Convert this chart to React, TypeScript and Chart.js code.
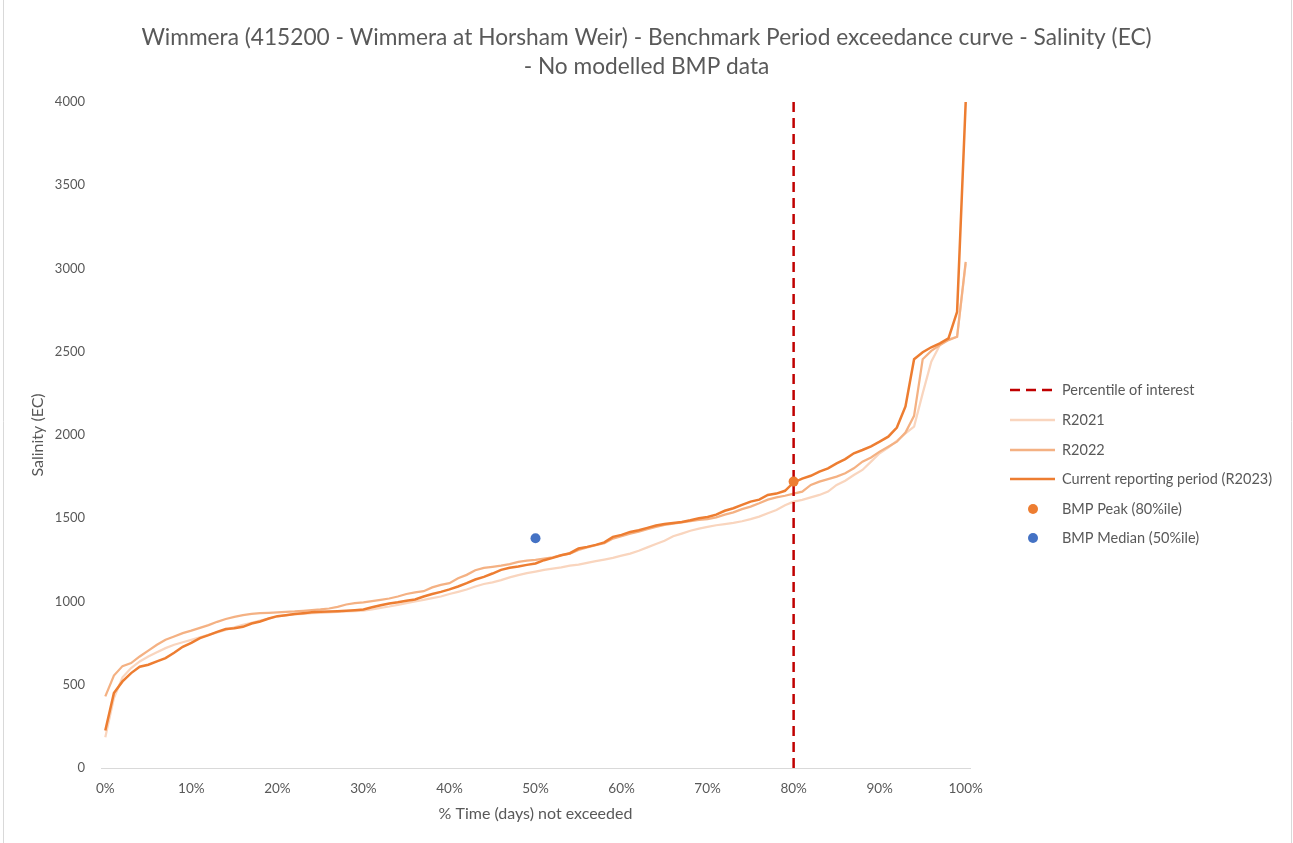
import React, { useEffect, useRef } from "react";
import { Chart, registerables } from "chart.js";

Chart.register(...registerables);

const TITLE_LINES = [
  "Wimmera (415200 - Wimmera at Horsham Weir) - Benchmark Period exceedance curve - Salinity (EC)",
  "- No modelled BMP data",
];
const X_TITLE = "% Time (days) not exceeded";
const Y_TITLE = "Salinity (EC)";

const PCT = [
  0, 1, 2, 3, 4, 5, 6, 7, 8, 9, 10, 11, 12, 13, 14, 15, 16, 17, 18, 19, 20,
  21, 22, 23, 24, 25, 26, 27, 28, 29, 30, 31, 32, 33, 34, 35, 36, 37, 38, 39, 40,
  41, 42, 43, 44, 45, 46, 47, 48, 49, 50, 51, 52, 53, 54, 55, 56, 57, 58, 59, 60,
  61, 62, 63, 64, 65, 66, 67, 68, 69, 70, 71, 72, 73, 74, 75, 76, 77, 78, 79, 80,
  81, 82, 83, 84, 85, 86, 87, 88, 89, 90, 91, 92, 93, 94, 95, 96, 97, 98, 99, 100,
];

const R2021 = [
  185, 420, 545, 600, 640, 670, 695, 720, 740, 755, 770,
  785, 800, 815, 830, 845, 860, 872, 885, 898, 910,
  918, 922, 926, 930, 932, 935, 937, 940, 942, 945,
  952, 962, 970, 980, 990, 1000, 1010, 1020, 1030, 1045,
  1058, 1072, 1090, 1105, 1115, 1128, 1145, 1158, 1170, 1180,
  1190, 1198, 1205, 1215, 1222, 1232, 1242, 1252, 1262, 1275,
  1288, 1305, 1325, 1345, 1365, 1392, 1408, 1425, 1438, 1448,
  1458, 1465, 1472, 1482, 1495, 1510, 1530, 1550, 1578, 1600,
  1610, 1625, 1640, 1660, 1700, 1725, 1760, 1790, 1840, 1890,
  1925, 1965, 2010, 2050, 2250, 2440, 2540, 2575, 2590, 3030,
];

const R2022 = [
  430, 555, 612, 630, 670, 705, 740, 770, 790, 810, 825,
  842, 858, 878, 895, 908, 918, 925, 930, 932, 935,
  938, 940, 944, 948, 952, 958, 968, 982, 990, 995,
  1002, 1010, 1018, 1030, 1045, 1055, 1062, 1085, 1100, 1110,
  1140, 1160, 1188, 1202, 1208, 1215, 1225, 1238, 1245, 1250,
  1258, 1265, 1278, 1288, 1310, 1325, 1338, 1350, 1378, 1392,
  1408, 1420, 1435, 1448, 1460, 1468, 1475, 1482, 1490, 1495,
  1505, 1522, 1535, 1555, 1570, 1590, 1612, 1625, 1635, 1648,
  1660, 1700, 1720, 1735, 1750, 1770, 1800, 1840, 1865, 1900,
  1930, 1960, 2015, 2115, 2455, 2505, 2540, 2570, 2590, 3040,
];

const R2023 = [
  225, 450, 520, 570, 608, 620, 640, 660, 692, 728, 752,
  780, 798, 818, 835, 840, 848, 868, 880, 898, 912,
  918, 925, 930, 935, 938, 940, 942, 945, 948, 952,
  965, 978, 988, 995, 1005, 1012, 1030, 1045, 1058, 1073,
  1090, 1110, 1132, 1148, 1168, 1190, 1203, 1210, 1220, 1228,
  1248, 1262, 1278, 1290, 1318, 1328, 1340, 1355, 1388, 1400,
  1418, 1428, 1442, 1456, 1465, 1472, 1478, 1488, 1500, 1508,
  1522, 1545, 1560, 1580, 1600, 1612, 1640, 1648, 1665, 1715,
  1738, 1755, 1780, 1800, 1830, 1855, 1890, 1910, 1932, 1960,
  1990, 2045, 2172, 2455, 2497, 2527, 2550, 2580, 2740, 4000,
];

const PERCENTILE_OF_INTEREST = [80, 80];
const PERCENTILE_LINE_Y = [0, 4000];
const PEAK_PCT = [80];
const PEAK_VAL = [1720];
const MEDIAN_PCT = [50];
const MEDIAN_VAL = [1380];

const X_TICKS = [0, 10, 20, 30, 40, 50, 60, 70, 80, 90, 100];
const Y_MIN = 0;
const Y_MAX = 4000;
const Y_STEP = 500;

const LEGEND_LABELS = [
  "Percentile of interest",
  "R2021",
  "R2022",
  "Current reporting period (R2023)",
  "BMP Peak (80%ile)",
  "BMP Median (50%ile)",
];

const C_RED = "#C00000";
const C_2021 = "#F9D5BE";
const C_2022 = "#F4B183";
const C_2023 = "#ED7D31";
const C_BLUE = "#4472C4";
const TXT = "#595959";
const FONT = "Lato, 'Open Sans', sans-serif";

const pairs = (xs: number[], ys: number[]) => xs.map((x, i) => ({ x, y: ys[i] }));

const legendPlugin = {
  id: "customLegend",
  afterDraw(chart: any) {
    const ctx = chart.ctx;
    ctx.save();
    // chart frame
    ctx.strokeStyle = "#D9D9D9";
    ctx.lineWidth = 1;
    ctx.beginPath();
    ctx.moveTo(3.5, 0);
    ctx.lineTo(3.5, chart.height);
    ctx.moveTo(chart.width - 1.5, 0);
    ctx.lineTo(chart.width - 1.5, chart.height);
    ctx.stroke();

    const rows = [390, 420, 450, 479, 509, 538];
    const x0 = 1010;
    const x1 = 1055;
    const tx = 1062;
    const items = [
      { kind: "line", color: C_RED, dash: [10, 6], width: 2.5 },
      { kind: "line", color: C_2021, dash: [], width: 2.5 },
      { kind: "line", color: C_2022, dash: [], width: 2.5 },
      { kind: "line", color: C_2023, dash: [], width: 2.5 },
      { kind: "dot", color: C_2023 },
      { kind: "dot", color: C_BLUE },
    ];
    items.forEach((it: any, i) => {
      const y = rows[i];
      if (it.kind === "line") {
        ctx.beginPath();
        ctx.setLineDash(it.dash);
        ctx.strokeStyle = it.color;
        ctx.lineWidth = it.width;
        ctx.moveTo(x0, y);
        ctx.lineTo(x1, y);
        ctx.stroke();
        ctx.setLineDash([]);
      } else {
        ctx.beginPath();
        ctx.fillStyle = it.color;
        ctx.arc((x0 + x1) / 2 + 0.5, y, 5, 0, Math.PI * 2);
        ctx.fill();
      }
      ctx.fillStyle = TXT;
      ctx.font = `14.5px ${FONT}`;
      ctx.textAlign = "left";
      ctx.textBaseline = "middle";
      ctx.fillText(LEGEND_LABELS[i], tx, y);
    });
    ctx.restore();
  },
};

export default function App() {
  const ref = useRef<HTMLCanvasElement | null>(null);

  useEffect(() => {
    document.body.style.margin = "0";
    const canvas = ref.current;
    if (!canvas) return;
    const chart = new Chart(canvas, {
      type: "line",
      data: {
        datasets: [
          {
            label: LEGEND_LABELS[5],
            data: pairs(MEDIAN_PCT, MEDIAN_VAL),
            showLine: false,
            pointRadius: 5,
            pointBackgroundColor: C_BLUE,
            pointBorderColor: C_BLUE,
            pointBorderWidth: 0,
            order: 0,
          },
          {
            label: LEGEND_LABELS[4],
            data: pairs(PEAK_PCT, PEAK_VAL),
            showLine: false,
            pointRadius: 5,
            pointBackgroundColor: C_2023,
            pointBorderColor: C_2023,
            pointBorderWidth: 0,
            order: 0,
          },
          {
            label: LEGEND_LABELS[0],
            data: pairs(PERCENTILE_OF_INTEREST, PERCENTILE_LINE_Y),
            borderColor: C_RED,
            borderWidth: 2.5,
            borderDash: [10, 6],
            pointRadius: 0,
            order: 1,
          },
          {
            label: LEGEND_LABELS[3],
            data: pairs(PCT, R2023),
            borderColor: C_2023,
            borderWidth: 2.5,
            pointRadius: 0,
            order: 2,
          },
          {
            label: LEGEND_LABELS[2],
            data: pairs(PCT, R2022),
            borderColor: C_2022,
            borderWidth: 2.25,
            pointRadius: 0,
            order: 3,
          },
          {
            label: LEGEND_LABELS[1],
            data: pairs(PCT, R2021),
            borderColor: C_2021,
            borderWidth: 2.25,
            pointRadius: 0,
            order: 4,
          },
        ] as any,
      },
      options: {
        responsive: false,
        animation: false,
        clip: false as any,
        layout: { padding: 0 },
        plugins: {
          legend: { display: false },
          tooltip: { enabled: false },
          title: {
            display: true,
            text: TITLE_LINES,
            color: TXT,
            font: { family: FONT, size: 22.7, weight: "normal", lineHeight: 29 / 22.7 },
            padding: { top: 23.5, bottom: 20.5 },
          },
        },
        scales: {
          x: {
            type: "linear",
            min: -0.5,
            max: 100.5,
            afterBuildTicks: (s: any) => {
              s.ticks = X_TICKS.map((v) => ({ value: v }));
            },
            afterFit: (s: any) => {
              s.height = 75;
            },
            grid: { display: false, drawTicks: false },
            border: { display: true, color: "#D9D9D9", width: 1 },
            ticks: {
              color: TXT,
              font: { family: FONT, size: 13.5 },
              padding: 13,
              maxRotation: 0,
              callback: (v: any) => `${v}%`,
            },
            title: {
              display: true,
              text: X_TITLE,
              color: TXT,
              font: { family: FONT, size: 16 },
              padding: { top: 0, bottom: 19.4 },
            },
          },
          y: {
            type: "linear",
            position: "left",
            min: Y_MIN,
            max: Y_MAX,
            afterFit: (s: any) => {
              s.width = 101;
            },
            grid: { display: false, drawTicks: false },
            border: { display: false },
            ticks: {
              stepSize: Y_STEP,
              color: TXT,
              font: { family: FONT, size: 13 },
              padding: 16,
              callback: (v: any) => String(v),
            },
            title: {
              display: true,
              text: Y_TITLE,
              color: TXT,
              font: { family: FONT, size: 16 },
              padding: { top: 28.4, bottom: 0 },
            },
          },
          spacer: {
            type: "linear",
            position: "right",
            display: true,
            afterFit: (s: any) => {
              s.width = 323;
            },
            grid: { display: false, drawTicks: false },
            border: { display: false },
            ticks: { display: false },
            title: { display: false },
          },
        },
      } as any,
      plugins: [legendPlugin],
    });
    return () => chart.destroy();
  }, []);

  return (
    <div style={{ width: 1293, height: 843, background: "#fff" }}>
      <canvas ref={ref} width={1293} height={843} style={{ display: "block" }} />
    </div>
  );
}
